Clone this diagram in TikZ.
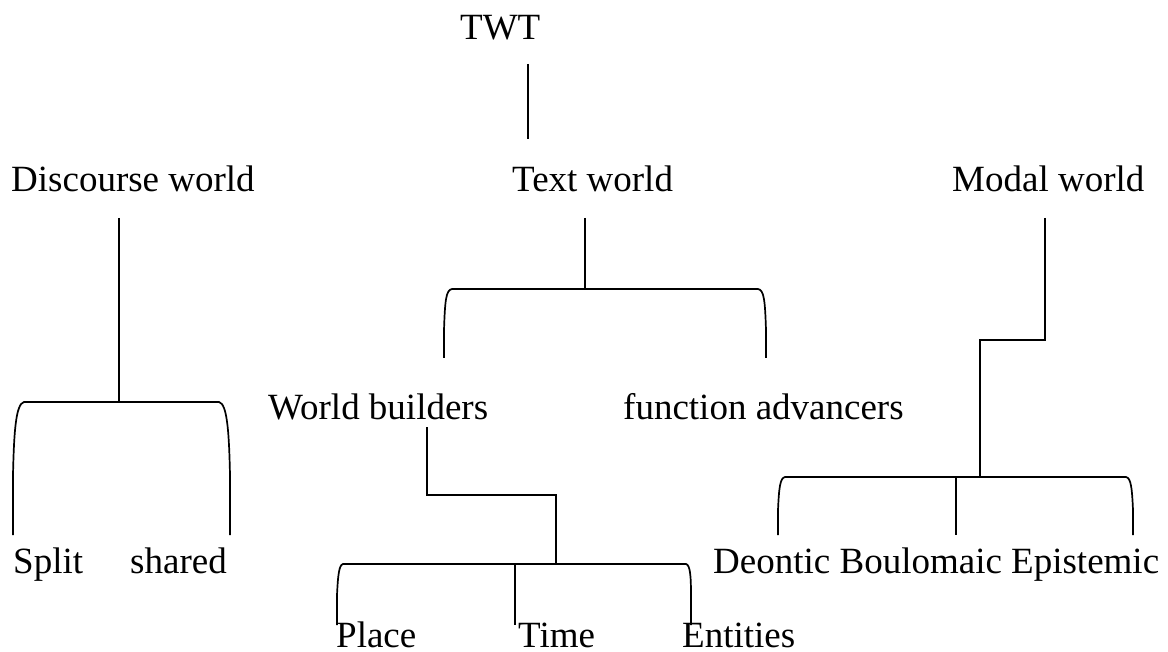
\documentclass[tikz,border=0pt]{standalone}
\usepackage{fontspec}
\setmainfont{Liberation Serif}
\begin{document}
\begin{tikzpicture}[x=1pt,y=-1pt,
  lbl/.style={anchor=base west,inner sep=0pt,font=\fontsize{37}{40}\selectfont},
  link/.style={line width=1.7pt,black}]
\useasboundingbox (0,0) rectangle (1168,652);

% labels
\node[lbl] (twt) at (460,40) {TWT};
\node[lbl] (dw) at (11,192) {Discourse world};
\node[lbl] (tw) at (512,192) {Text world};
\node[lbl] (mw) at (952,192) {Modal world};
\node[lbl] (wb) at (268,420) {World builders};
\node[lbl] (fa) at (623,420) {function advancers};
\node[lbl] (split) at (13,573) {Split};
\node[lbl] (shared) at (130,573) {shared};
\node[lbl] (deo) at (713,573) {Deontic};
\node[lbl] (boul) at (839.5,573) {Boulomaic};
\node[lbl] (epi) at (1011,573) {Epistemic};
\node[lbl] (place) at (336,647) {Place};
\node[lbl] (time) at (518,647) {Time};
\node[lbl] (ent) at (682,647) {Entities};

% junction points
\coordinate (twtB) at (528,64);
\coordinate (twT) at (528,139);
\coordinate (dwB) at (119,218);
\coordinate (dwJ) at (119,402);
\coordinate (twB) at (585,218);
\coordinate (twJ) at (585,289);
\coordinate (wbB) at (427,427);
\coordinate (wbJ) at (556,564);
\coordinate (mwB) at (1045,218);
\coordinate (mwJ) at (980,477);

% TWT to Text world
\draw[link] (twtB) -- (twT);

% Discourse world branch
\draw[link] (dwB) -- (dwJ);
\draw[link] (13,535) -- (13,475) .. controls (14,430) and (16,404) .. (24,402)
  -- (219,402) .. controls (227,404) and (229,430) .. (230,475) -- (230,535);

% Text world branch
\draw[link] (twB) -- (twJ);
\draw[link] (444,358) -- (444,330) .. controls (445,300) and (446,290) .. (452,289)
  -- (758,289) .. controls (764,290) and (765,300) .. (766,330) -- (766,358);

% World builders branch
\draw[link] (wbB) -- (427,495) -- (556,495) -- (wbJ);
\draw[link] (337,625) -- (337,595) .. controls (338,575) and (339,565) .. (343,564)
  -- (686,564) .. controls (690,565) and (691,575) .. (691,595) -- (691,625);
\draw[link] (515,564) -- (515,625);

% Modal world branch
\draw[link] (mwB) -- (1045,340) -- (980,340) -- (mwJ);
\draw[link] (778,535) -- (778,510) .. controls (779,488) and (780,478) .. (785,477)
  -- (1126,477) .. controls (1131,478) and (1132,488) .. (1133,510) -- (1133,535);
\draw[link] (956,477) -- (956,535);
\end{tikzpicture}
\end{document}
